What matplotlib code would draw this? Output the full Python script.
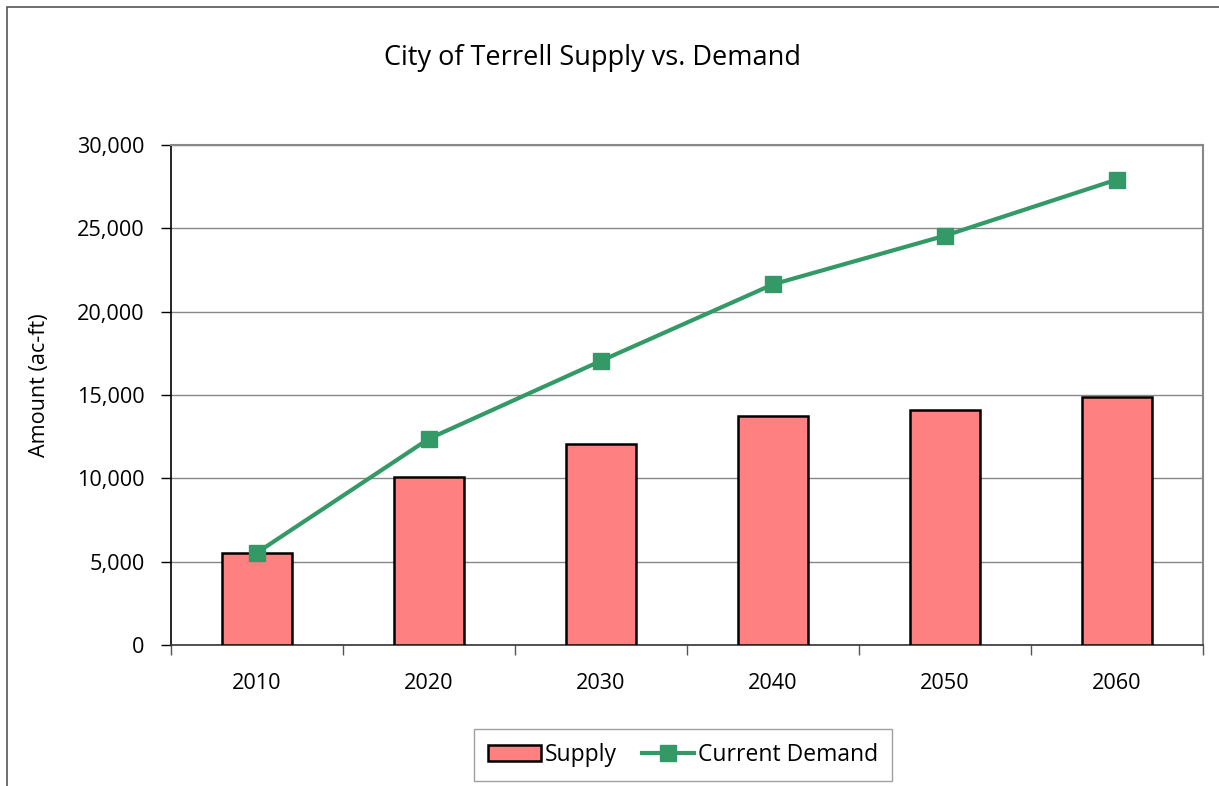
import matplotlib.pyplot as plt
import matplotlib.patches as patches
from matplotlib.ticker import FuncFormatter, MultipleLocator
import numpy as np

# data
years = ['2010', '2020', '2030', '2040', '2050', '2060']
supply = [5500, 10070, 12060, 13760, 14130, 14900]
demand = [5540, 12380, 17050, 21640, 24560, 27930]

plt.rcParams['font.family'] = ['Open Sans', 'DejaVu Sans']

fig = plt.figure(figsize=(12.19, 7.86), dpi=100)
ax = fig.add_axes([171 / 1219, 1 - 645 / 786, 1032 / 1219, 500 / 786])

x = np.arange(len(years))
bars = ax.bar(x, supply, width=0.41, color='#FF8080', edgecolor='black',
              linewidth=1.8, label='Supply', zorder=3)
line, = ax.plot(x, demand, color='#339966', linewidth=3, marker='s',
                markersize=12, label='Current Demand', zorder=4)

ax.set_xlim(-0.5, len(years) - 0.5)
ax.set_ylim(0, 30000)
ax.yaxis.set_major_locator(MultipleLocator(5000))
ax.yaxis.set_major_formatter(FuncFormatter(lambda v, p: f'{int(v):,}'))
ax.set_xticks(x)
ax.set_xticklabels(years)
ax.set_xticks(np.arange(-0.5, len(years)), minor=True)
ax.tick_params(axis='x', which='major', length=0, pad=20, labelsize=15.6)
ax.tick_params(axis='x', which='minor', length=7, width=1, color='#555555')
ax.tick_params(axis='y', length=7, width=1, labelsize=15.6, pad=12)

ax.grid(axis='y', color='#888888', linewidth=1, zorder=0)
ax.set_axisbelow(True)
for s in ['top', 'right']:
    ax.spines[s].set_color('#888888')
    ax.spines[s].set_linewidth(1.5)
ax.spines['left'].set_color('black')
ax.spines['bottom'].set_color('#333333')
ax.spines['left'].set_linewidth(1.2)
ax.spines['bottom'].set_linewidth(1.2)

ax.set_ylabel('Amount (ac-ft)', fontsize=15.6)
ax.yaxis.set_label_coords(-0.117, 0.52)
fig.text(593 / 1219, 1 - 58 / 786, 'City of Terrell Supply vs. Demand',
         fontsize=19.5, ha='center', va='center')

leg = fig.legend([bars, line], ['Supply', 'Current Demand'], loc='center',
                 bbox_to_anchor=(683 / 1219, 1 - 755 / 786),
                 ncol=2, fontsize=16.5, frameon=True, fancybox=False,
                 handlelength=2.3, columnspacing=1.1, handletextpad=0.15,
                 borderpad=0.6)
leg.get_frame().set_edgecolor('#888888')
leg.get_frame().set_linewidth(1)

# outer chart border (only top/left edges fall inside the image)
fig.patches.append(patches.Rectangle((7 / 1219, -0.1), 1.2, 1 - 7 / 786 + 0.1,
                                     transform=fig.transFigure, fill=False,
                                     edgecolor='#555555', linewidth=1.2))

fig.savefig('out.png', dpi=100)
